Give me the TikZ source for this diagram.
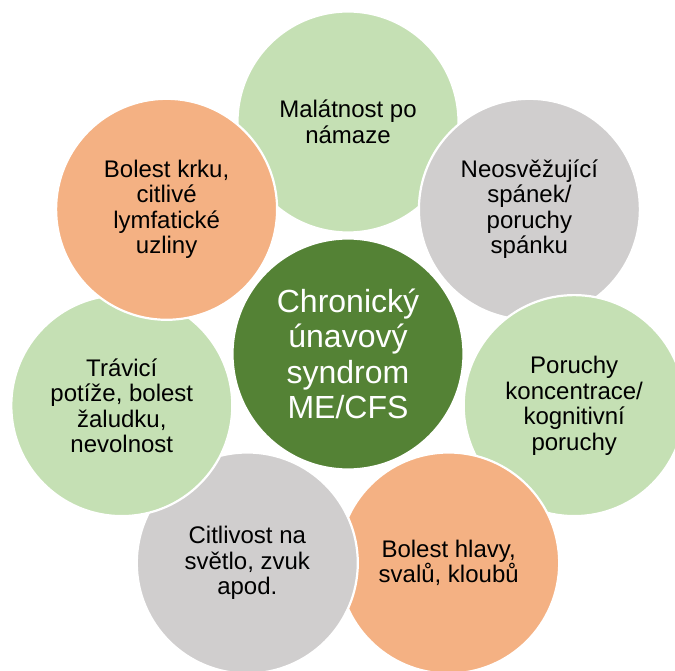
\documentclass[tikz,border=0pt]{standalone}
\usepackage{fontspec}
\setmainfont{Liberation Sans}
\definecolor{lgreen}{HTML}{C5E0B4}
\definecolor{lgray}{HTML}{D0CECE}
\definecolor{lorange}{HTML}{F4B183}
\definecolor{dgreen}{HTML}{548235}
\begin{document}
\begin{tikzpicture}[x=1pt,y=-1pt,
  outer/.style={circle,draw=white,line width=2.2pt,minimum size=221pt,inner sep=0pt,align=center,
    font=\fontsize{24}{25.5}\selectfont,text=black},
  inner/.style={circle,draw=white,line width=2.2pt,minimum size=231pt,inner sep=0pt,align=center,
    fill=dgreen,text=white,font=\fontsize{32}{35.5}\selectfont}]
\useasboundingbox (0,0) rectangle (675,671);
\clip (0,0) rectangle (675,671);
\fill[white] (0,0) rectangle (675,671);
\node[outer,fill=lgreen] (c0) at (348,122) {Malátnost po\\námaze};
\node[outer,fill=lgray] (c1) at (529.4,209.3) {Neosvěžující\\spánek/\\poruchy\\spánku};
\node[outer,fill=lgreen] (c2) at (574.2,405.6) {Poruchy\\koncentrace/\\kognitivní\\poruchy};
\node[outer,fill=lorange] (c3) at (448.7,563) {Bolest hlavy,\\svalů, kloubů};
\node[outer,fill=lgray] (c4) at (247.3,563) {Citlivost na\\světlo, zvuk\\apod.};
\node[outer,fill=lgreen] (c5) at (121.8,405.6) {Trávicí\\potíže, bolest\\žaludku,\\nevolnost};
\node[outer,fill=lorange] (c6) at (166.6,209.3) {Bolest krku,\\citlivé\\lymfatické\\uzliny};
\begin{scope}
  \clip (0,0) rectangle (675,671);
  \clip (348,122) circle (110.5pt) (-10,-10) rectangle (700,700);
\end{scope}
\node[inner] (ctr) at (348,354) {Chronický\\únavový\\syndrom\\ME/CFS};
\end{tikzpicture}
\end{document}
